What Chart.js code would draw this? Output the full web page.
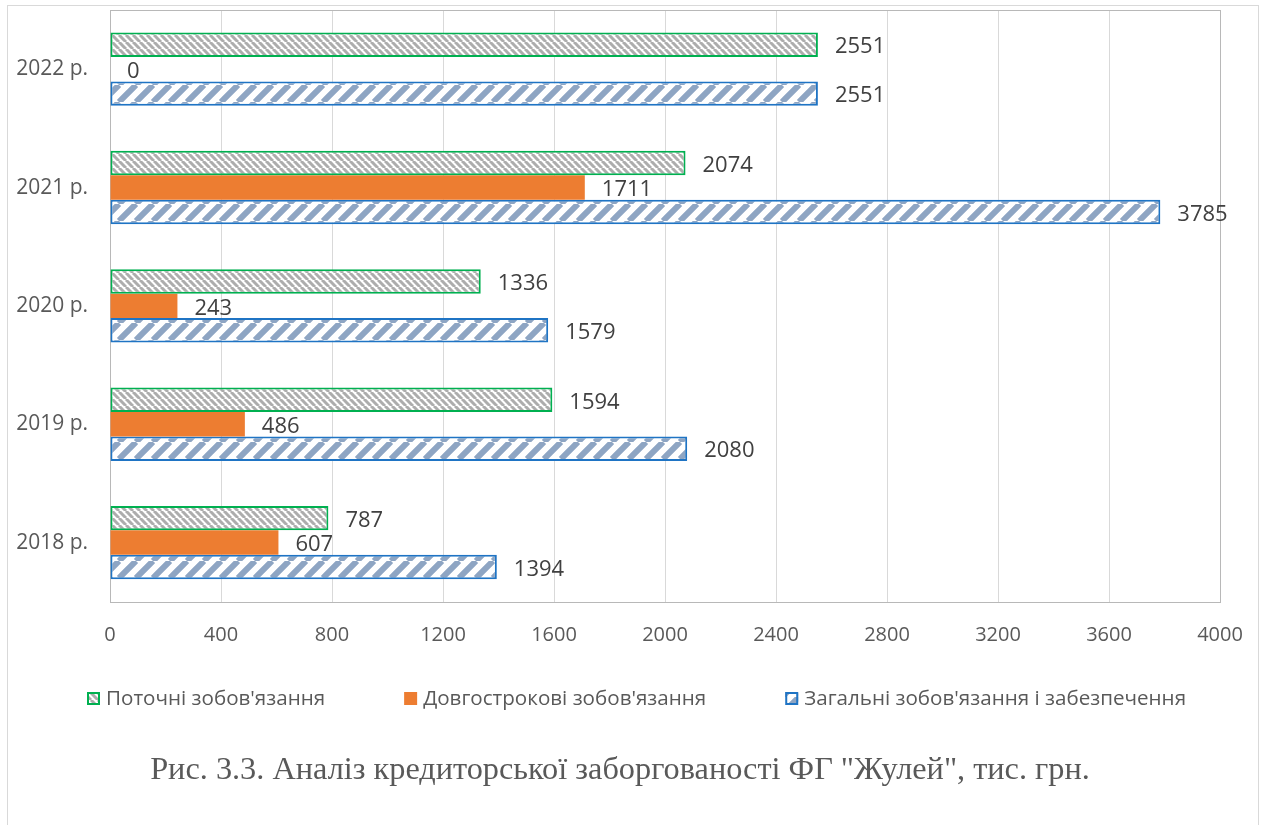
<!DOCTYPE html>
<html>
<head>
<meta charset="utf-8">
<script src="https://cdn.jsdelivr.net/npm/chart.js@4/dist/chart.umd.min.js"></script>
<style>
  html, body { margin: 0; padding: 0; background: #fff; }
  #wrap { position: relative; width: 1267px; height: 825px; overflow: hidden; }
  #frame { position: absolute; left: 7px; top: 5px; width: 1252px; height: 840px;
           border: 1px solid #d9d9d9; box-sizing: border-box; }
  canvas { position: absolute; left: 0; top: 0; }
</style>
</head>
<body>
<div id="wrap">
  <div id="frame"></div>
  <canvas id="chart" width="1267" height="825"></canvas>
</div>
<script>
// Роки (знизу вгору на діаграмі)
const years = ['2018 р.', '2019 р.', '2020 р.', '2021 р.', '2022 р.'];
// Поточні зобов'язання, тис. грн
const currentLiab = [787, 1594, 1336, 2074, 2551];
// Довгострокові зобов'язання, тис. грн
const longTermLiab = [607, 486, 243, 1711, 0];
// Загальні зобов'язання і забезпечення, тис. грн
const totalLiab = [1394, 2080, 1579, 3785, 2551];
// Шкала значень
const axisMin = 0, axisMax = 4000, axisStep = 400;

const seriesNames = ["Поточні зобов'язання", "Довгострокові зобов'язання", "Загальні зобов'язання і забезпечення"];
const titleText = 'Рис. 3.3. Аналіз кредиторської заборгованості ФГ "Жулей", тис. грн.';

const SANS = "'Open Sans', 'Noto Sans', sans-serif";

// штрихування смуг
function hatch(period, color, width, dir) {
  const tile = document.createElement('canvas');
  tile.width = tile.height = period;
  const g = tile.getContext('2d');
  g.fillStyle = '#ffffff';
  g.fillRect(0, 0, period, period);
  g.strokeStyle = color;
  g.lineWidth = width;
  g.beginPath();
  for (let k = -1; k <= 1; k++) {
    const x0 = k * period;
    if (dir === 'down') { g.moveTo(x0, 0); g.lineTo(x0 + period, period); }
    else { g.moveTo(x0, period); g.lineTo(x0 + period, 0); }
  }
  g.stroke();
  return g.createPattern(tile, 'repeat');
}

const greyHatch = hatch(7, '#adadad', 3, 'down');
const blueHatch = hatch(17, '#8ea5c3', 6, 'up');

// рядки зверху вниз: 2022 ... 2018
const rev = a => a.slice().reverse();

// значення праворуч від смуг
const valueLabels = {
  id: 'valueLabels',
  afterDatasetsDraw(chart) {
    const ctx = chart.ctx;
    ctx.save();
    ctx.font = "22px " + SANS;
    ctx.fillStyle = '#404040';
    ctx.textAlign = 'left';
    ctx.textBaseline = 'middle';
    chart.data.datasets.forEach((ds, di) => {
      const meta = chart.getDatasetMeta(di);
      meta.data.forEach((bar, i) => {
        ctx.fillText(String(ds.data[i]), bar.x + 17, bar.y + 2.5);
      });
    });
    ctx.restore();
  }
};

// рамка області побудови
const plotFrame = {
  id: 'plotFrame',
  beforeDatasetsDraw(chart) {
    const a = chart.chartArea, ctx = chart.ctx;
    ctx.save();
    ctx.strokeStyle = '#b8b8b8';
    ctx.lineWidth = 1;
    ctx.strokeRect(Math.round(a.left) + 0.5, Math.round(a.top) + 0.5,
                   Math.round(a.right - a.left), Math.round(a.bottom - a.top));
    ctx.restore();
  }
};

// легенда в один рядок під віссю значень
const rowLegend = {
  id: 'rowLegend',
  afterDraw(chart) {
    const ctx = chart.ctx;
    const box = 13, textGap = 6, itemGap = 79;
    const fontPx = 20.6;
    ctx.save();
    ctx.font = fontPx + "px " + SANS;
    const items = chart.data.datasets.map(ds => ({ ds, w: ctx.measureText(ds.label).width }));
    const total = items.reduce((s, it) => s + box + textGap + it.w, 0) + itemGap * (items.length - 1);
    let x = Math.round(chart.width / 2 - total / 2 + 3);
    const cy = chart.chartArea.bottom + 97;
    ctx.textBaseline = 'middle';
    ctx.textAlign = 'left';
    items.forEach(({ ds, w }) => {
      const top = Math.round(cy - box / 2);
      ctx.fillStyle = ds.backgroundColor;
      ctx.fillRect(x, top, box, box);
      if (ds.borderWidth) {
        ctx.strokeStyle = ds.borderColor;
        ctx.lineWidth = 2;
        ctx.strokeRect(x + 1, top + 1, box - 2, box - 2);
      }
      ctx.fillStyle = '#595959';
      ctx.fillText(ds.label, x + box + textGap, cy);
      x += box + textGap + w + itemGap;
    });
    ctx.restore();
  }
};

new Chart(document.getElementById('chart'), {
  type: 'bar',
  data: {
    labels: rev(years),
    datasets: [
      { label: seriesNames[0], data: rev(currentLiab), backgroundColor: greyHatch,
        borderColor: '#00b050', borderWidth: 2 },
      { label: seriesNames[1], data: rev(longTermLiab), backgroundColor: '#ed7d31',
        borderColor: '#ed7d31', borderWidth: 0 },
      { label: seriesNames[2], data: rev(totalLiab), backgroundColor: blueHatch,
        borderColor: '#1f74c4', borderWidth: 2 }
    ]
  },
  options: {
    indexAxis: 'y',
    responsive: false,
    maintainAspectRatio: false,
    animation: false,
    datasets: { bar: { categoryPercentage: 0.62, barPercentage: 1.0, borderSkipped: false } },
    layout: { padding: { left: 0, right: 27, top: 10, bottom: 0 } },
    scales: {
      x: {
        min: axisMin, max: axisMax,
        ticks: {
          stepSize: axisStep, color: '#595959', font: { family: SANS, size: 20 }, padding: 22,
          callback: v => String(v)
        },
        grid: { color: '#d9d9d9', drawTicks: false },
        border: { display: false },
        afterFit(s) { s.height = 50; s.paddingLeft = 0; s.paddingRight = 47; }
      },
      y: {
        ticks: { color: '#595959', font: { family: SANS, size: 21 }, padding: 22 },
        grid: { display: false, drawTicks: false },
        border: { display: false },
        afterFit(s) { s.width = 110; s.paddingTop = 0; s.paddingBottom = 0; }
      }
    },
    plugins: {
      legend: { display: false },
      title: {
        display: true,
        position: 'bottom',
        text: titleText,
        color: '#595959',
        font: { family: "'Liberation Serif', 'Times New Roman', serif", size: 32.3, weight: 'normal' },
        padding: { top: 99.5, bottom: 35 }
      },
      tooltip: { enabled: false }
    }
  },
  plugins: [plotFrame, valueLabels, rowLegend]
});
</script>
</body>
</html>
